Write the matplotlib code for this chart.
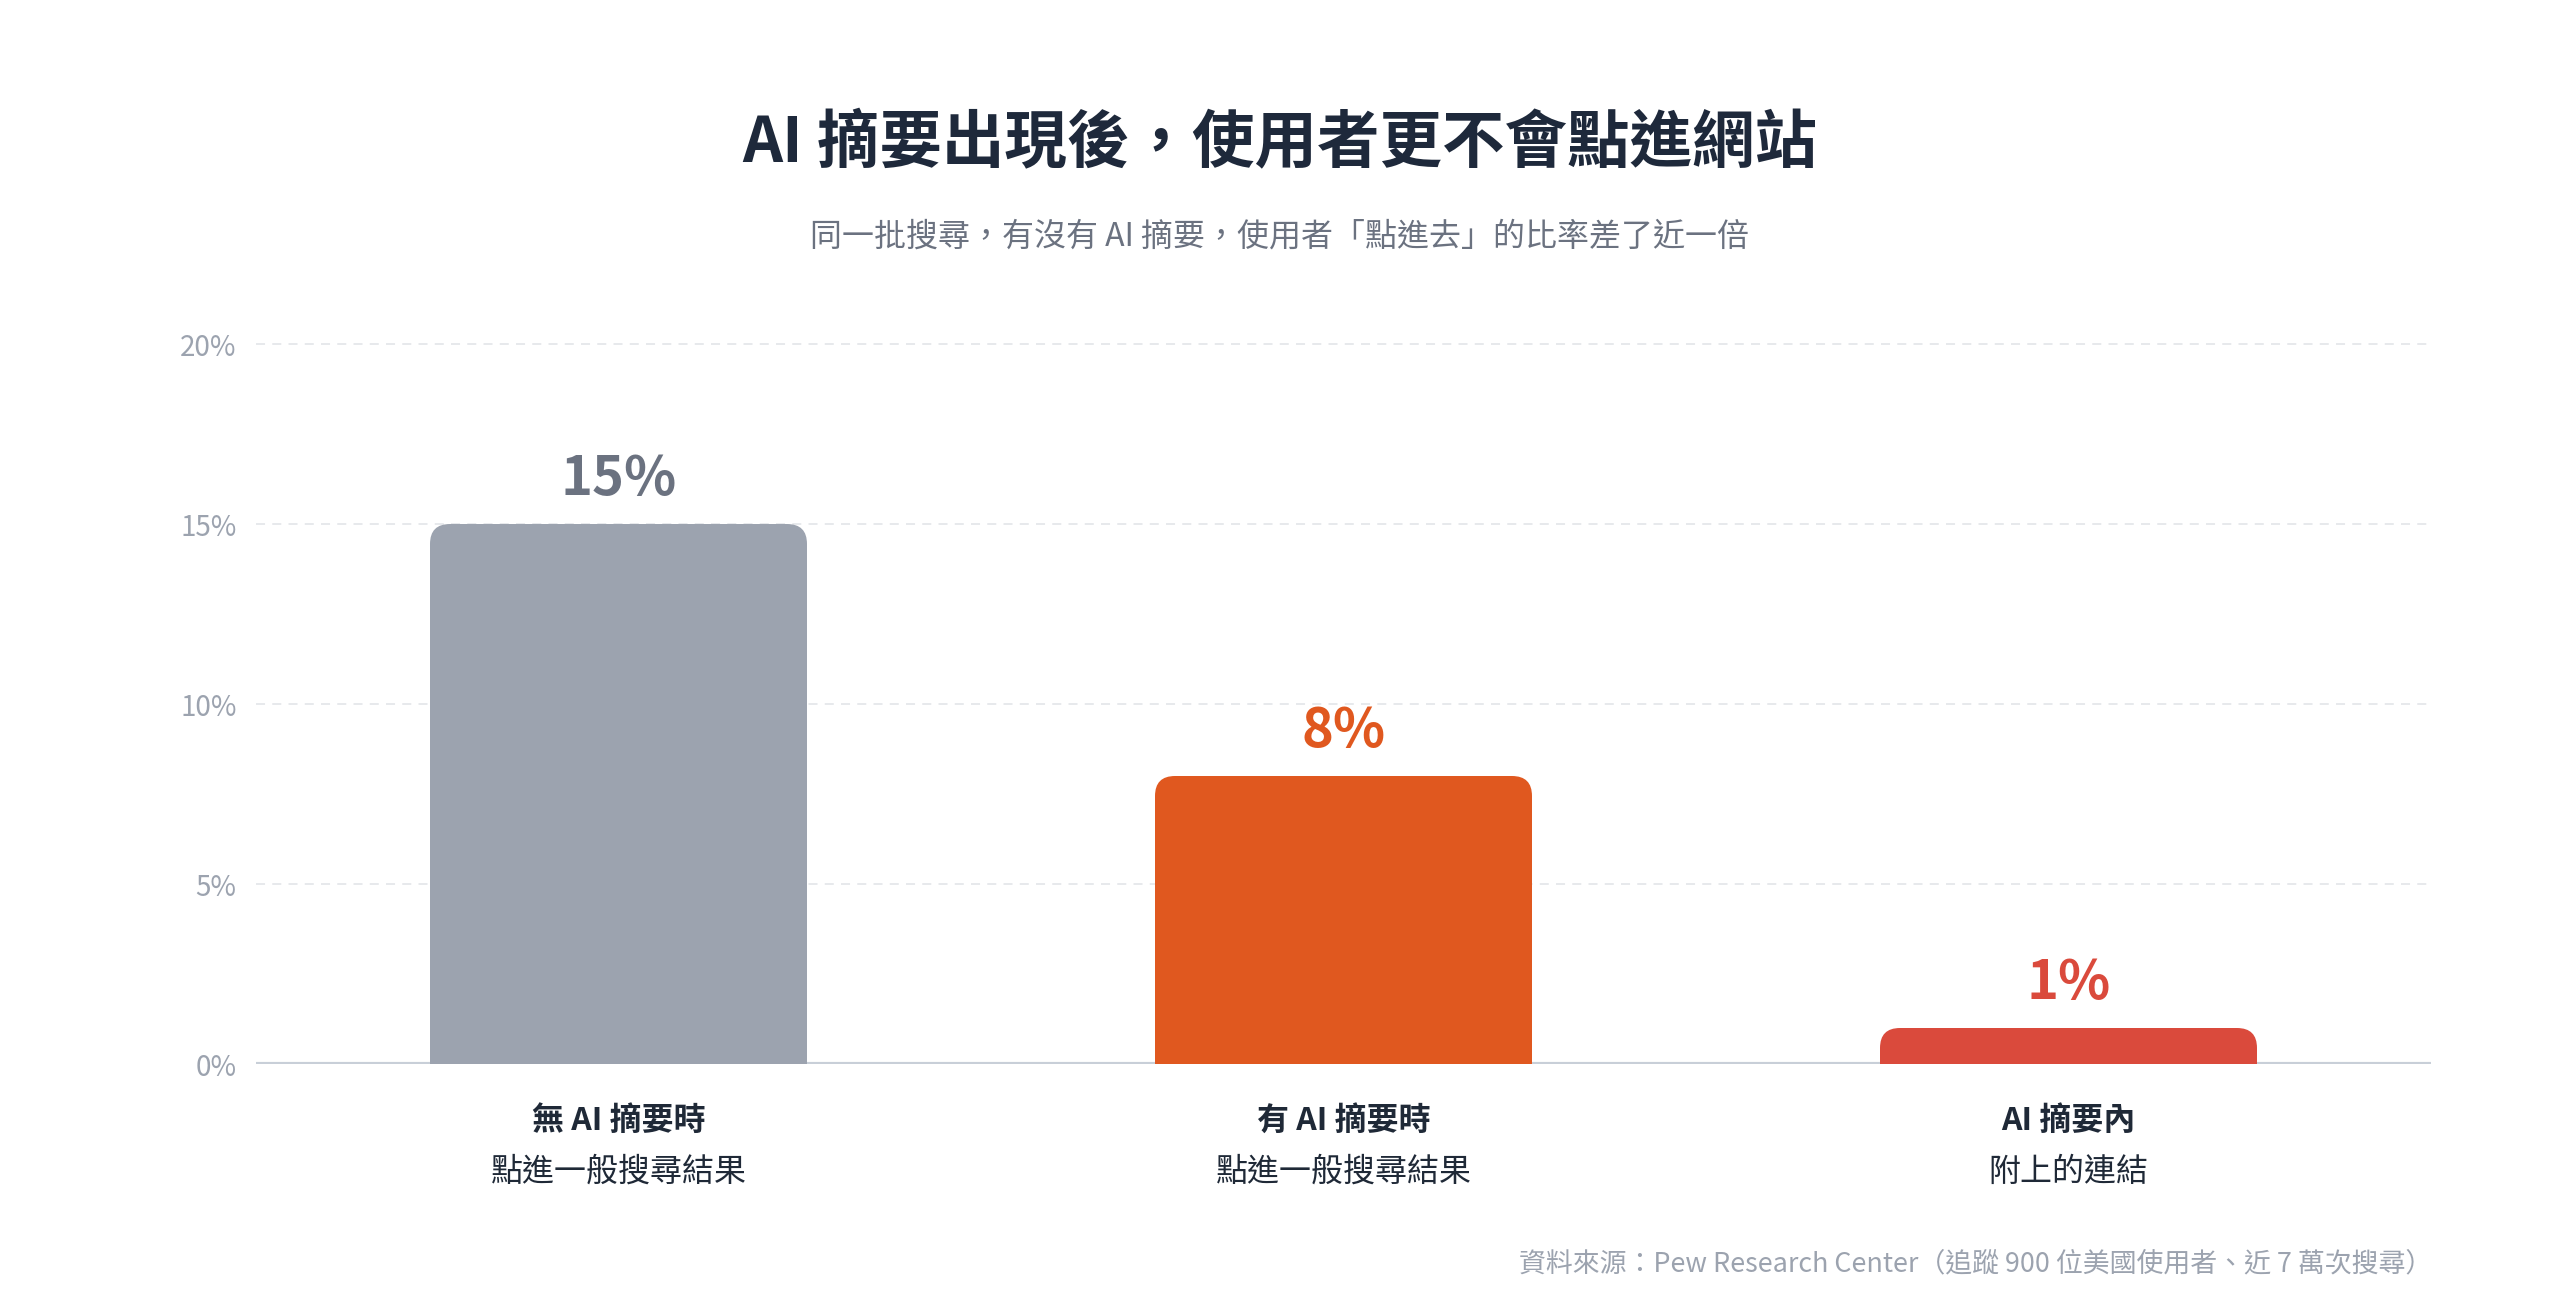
import numpy as np
import matplotlib
matplotlib.use('Agg')
import matplotlib.pyplot as plt
from matplotlib.patches import FancyBboxPatch

plt.rcParams['font.family'] = ['Noto Sans CJK TC', 'DejaVu Sans']

# data
cat_main = ['無 AI 摘要時', '有 AI 摘要時', 'AI 摘要內']
cat_sub = ['點進一般搜尋結果', '點進一般搜尋結果', '附上的連結']
values = [15, 8, 1]
value_labels = ['15%', '8%', '1%']
y_ticks = [0, 5, 10, 15, 20]
y_tick_labels = ['0%', '5%', '10%', '15%', '20%']

bar_colors = ['#9CA3AF', '#E0581F', '#DA4A3C']
label_colors = ['#6B7280', '#E0581F', '#DA4A3C']

W, H = 2560, 1301
fig = plt.figure(figsize=(W / 100, H / 100), dpi=100)
fig.patch.set_facecolor('white')

ymax = 20.3
ax_l, ax_r = 256, 2431
ax_b = 1064
ax_t = ax_b - ymax * 36
ax = fig.add_axes([ax_l / W, 1 - ax_b / H, (ax_r - ax_l) / W, (ax_b - ax_t) / H])
ax.set_xlim(-0.5, 2.5)
ax.set_ylim(0, ymax)
for s in ax.spines.values():
    s.set_visible(False)

ax.set_yticks(y_ticks)
ax.set_yticklabels(y_tick_labels, fontsize=20, color='#9CA3AF')
ax.tick_params(axis='y', length=0, pad=14)
ax.set_xticks([])
for t in y_ticks[1:]:
    ax.axhline(t, color='#E5E7EB', lw=1.3, ls=(0, (5, 4)), zorder=0)
ax.axhline(0, color='#C8CFD8', lw=3, zorder=1)

x = np.arange(len(values))
bars = ax.bar(x, values, width=0.52, color=bar_colors)

px_x = (ax_r - ax_l) / 3.0
px_y = (ax_b - ax_t) / ymax
r_px = 20
r_x = r_px / px_x
aspect = px_x / px_y
for b, c in zip(bars, bar_colors):
    bx, bw, bh = b.get_x(), b.get_width(), b.get_height()
    b.remove()
    ext = r_px / px_y
    p = FancyBboxPatch((bx, -ext), bw, bh + ext,
                       boxstyle='round,pad=0,rounding_size=%f' % r_x,
                       mutation_aspect=aspect, fc=c, ec='none', zorder=2)
    ax.add_patch(p)

for i, v in enumerate(values):
    ax.annotate(value_labels[i], xy=(i, v), xytext=(0, 44), textcoords='offset pixels',
                ha='center', va='center', fontsize=39, fontweight=900,
                color=label_colors[i], annotation_clip=False)
    ax.annotate(cat_main[i], xy=(i, 0), xycoords=('data', 'axes fraction'),
                xytext=(0, -57), textcoords='offset pixels', ha='center', va='center',
                fontsize=23, fontweight=900, color='#1F2937', annotation_clip=False)
    ax.annotate(cat_sub[i], xy=(i, 0), xycoords=('data', 'axes fraction'),
                xytext=(0, -108), textcoords='offset pixels', ha='center', va='center',
                fontsize=23, color='#1F2937', annotation_clip=False)

fig.text(0.5, 1 - 144 / H, 'AI 摘要出現後，使用者更不會點進網站', ha='center', va='center',
         fontsize=45, fontweight=900, color='#1E293B')
fig.text(0.5, 1 - 237 / H, '同一批搜尋，有沒有 AI 摘要，使用者「點進去」的比率差了近一倍',
         ha='center', va='center', fontsize=23, color='#6B7280')
fig.text(2432 / W, 1 - 1264 / H,
         '資料來源：Pew Research Center（追蹤 900 位美國使用者、近 7 萬次搜尋）',
         ha='right', va='center', fontsize=19.4, color='#9CA3AF')

fig.savefig('out.png', dpi=100, facecolor='white')
